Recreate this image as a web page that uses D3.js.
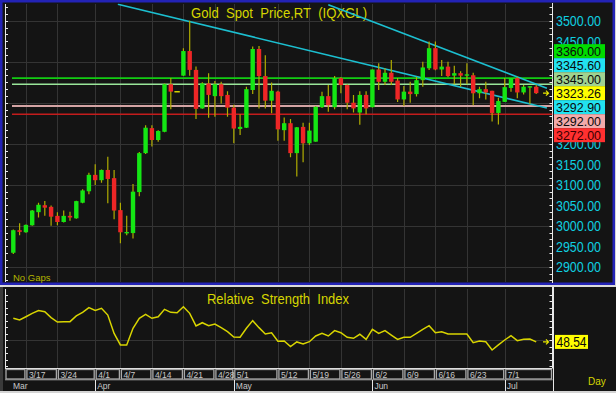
<!DOCTYPE html>
<html><head><meta charset="utf-8">
<script src="https://cdn.jsdelivr.net/npm/d3@7"></script>
<style>html,body{margin:0;padding:0;background:#d4d4d4;overflow:hidden}svg{display:block}</style>
</head><body>
<svg id="c" width="616" height="393"></svg>
<script>
// ---------------- data ----------------
const dates = ["3/13","3/14","3/17","3/18","3/19","3/20","3/21","3/24","3/25","3/26","3/27","3/28","3/31","4/1","4/2","4/3","4/4","4/7","4/8","4/9","4/10","4/11","4/14","4/15","4/16","4/17","4/18","4/21","4/22","4/23","4/24","4/25","4/28","4/29","4/30","5/1","5/2","5/5","5/6","5/7","5/8","5/9","5/12","5/13","5/14","5/15","5/16","5/19","5/20","5/21","5/22","5/23","5/26","5/27","5/28","5/29","5/30","6/2","6/3","6/4","6/5","6/6","6/9","6/10","6/11","6/12","6/13","6/16","6/17","6/18","6/19","6/20","6/23","6/24","6/25","6/26","6/27","6/30","7/1","7/2","7/3","7/4","7/7","7/8"];
const open = [2934,2989,2984,3001,3033,3050,3046,3024,3009,3024,
  3018,3056,3084,3124,3111,3136,3116,3038,2982,2982,
  3082,3177,3238,3209,3229,3345,3327,3366,3426,3380,
  3286,3347,3316,3345,3319,3288,3236,3239,3331,3431,
  3365,3305,3327,3233,3250,3177,3241,3201,3205,3289,
  3316,3289,3360,3343,3300,3276,3319,3289,3381,3351,
  3373,3354,3308,3327,3321,3355,3384,3433,3381,3388,
  3366,3372,3366,3367,3323,3333,3329,3275,3302,3336,
  3360,3325,3338,3339];
const high = [2991,3006,3003,3038,3056,3060,3049,3033,3037,3034,
  3061,3089,3129,3150,3137,3168,3136,3056,3024,3102,
  3180,3245,3245,3233,3347,3360,3327,3433,3500,3388,
  3350,3372,3353,3351,3328,3295,3272,3339,3437,3438,
  3416,3349,3329,3264,3260,3241,3251,3251,3292,3327,
  3343,3365,3362,3345,3319,3328,3328,3381,3396,3384,
  3404,3360,3341,3351,3363,3400,3449,3449,3404,3400,
  3390,3377,3396,3373,3339,3351,3329,3312,3360,3360,
  3363,3343,3341,3343];
const low = [2931,2977,2983,3000,3020,3024,3000,3001,3008,3012,
  3017,3055,3077,3099,3105,3055,3016,2957,2977,2969,
  3072,3175,3193,3205,3228,3284,3327,3365,3366,3260,
  3285,3263,3266,3298,3266,3201,3221,3238,3321,3286,
  3286,3274,3207,3207,3167,3120,3155,3197,3205,3287,
  3278,3284,3323,3284,3276,3246,3272,3288,3331,3343,
  3343,3302,3292,3300,3315,3339,3380,3379,3365,3362,
  3345,3339,3345,3294,3311,3308,3254,3247,3302,3327,
  3311,3320,3297,3321];
const close = [2989,2985,3002,3037,3051,3044,3022,3009,3024,3020,
  3060,3086,3124,3111,3136,3114,3037,2984,2984,3083,
  3177,3239,3209,3231,3345,3327,3327,3426,3380,3285,
  3347,3319,3345,3316,3288,3237,3241,3333,3431,3365,
  3305,3329,3235,3250,3177,3240,3201,3232,3290,3316,
  3294,3360,3343,3300,3286,3319,3286,3381,3351,3373,
  3351,3308,3327,3321,3355,3386,3433,3381,3388,3365,
  3372,3366,3369,3323,3333,3325,3275,3304,3338,3360,
  3325,3339,3339,3323.26];
const rsi = [66.7,65.4,67.9,70.5,72.6,71.8,67.2,63.8,64.1,64.1,
  68.5,71.3,74.9,72.8,74.4,69.2,55.1,46.2,46.2,59.0,
  66.7,69.7,66.7,67.9,73.6,71.3,71.0,75.6,70.5,60.8,
  63.3,61.0,62.3,59.5,56.4,52.3,52.1,59.0,64.9,59.5,
  54.6,55.6,49.0,49.2,44.9,48.5,46.9,48.7,53.1,55.1,
  53.1,57.2,55.6,52.1,51.3,54.4,50.5,58.2,55.1,57.2,
  53.8,50.5,52.1,52.1,55.1,58.2,61.0,55.6,56.4,54.6,
  54.6,54.6,54.6,47.9,49.2,48.7,42.3,46.2,50.0,53.3,
  49.5,50.5,50.8,48.54];
const weekLabels = ["3/17","3/24","4/1","4/7","4/14","4/21","4/28","5/1","5/12","5/19","5/26","6/2","6/9","6/16","6/23","7/1"];
const monthNames = ["Mar","Apr","May","Jun","Jul"];
const monthStarts = ["3/13","4/1","5/1","6/2","7/1"];
const priceTicks = [2900,2950,3000,3050,3100,3150,3200,3250,3300,3350,3400,3450,3500];
const levelValues = [3360, 3345, 3292, 3272];
const levelColors = ["#12cc12","#9ae69a","#d4a4a4","#c41c1c"];
const boxLabels = ["3360.00","3345.60","3345.00","3323.26","3292.90","3292.00","3272.00"];
const boxColors = ["#00dc00","#22e2f0","#a0d290","#ffff00","#22e2f0","#f2aaaa","#ff3030"];
const upperTrend = [[50, 3539],[84.7, 3335]];
const lowerTrend = [[16.6, 3540],[84.7, 3287]];
const rsiLast = "48.54";

// ---------------- drawing ----------------
const svg = d3.select("#c");
const FONT = "'Liberation Sans', Arial, sans-serif";
const W = 616, H = 393;
const AX = 552.5;
const x = d3.scaleLinear().domain([0, dates.length - 1]).range([13.3, 536.2]);
const y = d3.scaleLinear().domain([2900, 3500]).range([266.7, 20.7]);
const yr = d3.scaleLinear().domain([30, 90]).range([366, 288]);
const idx = d => dates.indexOf(d);

svg.append("rect").attr("width", W).attr("height", H).attr("fill", "#d4d4d4");

// ---- top panel ----
svg.append("rect").attr("x", 1.25).attr("y", 1.25).attr("width", 612.5).attr("height", 282.5)
  .attr("fill", "#141414").attr("stroke", "#2323b6").attr("stroke-width", 2.5);

const defs = svg.append("defs");
defs.append("clipPath").attr("id", "pclip").append("rect")
  .attr("x", 5).attr("y", 3.5).attr("width", AX - 5).attr("height", 279);
defs.append("clipPath").attr("id", "rclip").append("rect")
  .attr("x", 5).attr("y", 288).attr("width", AX - 5).attr("height", 80);

const gGrid = svg.append("g");
gGrid.selectAll("line.h").data(priceTicks.filter(v => v % 100 === 0)).join("line")
  .attr("x1", 6).attr("x2", AX).attr("y1", d => Math.round(y(d)) + 0.5).attr("y2", d => Math.round(y(d)) + 0.5)
  .attr("stroke", "#343434").attr("stroke-width", 1);
const weekX = weekLabels.map(d => x(idx(d)));
gGrid.selectAll("line.v").data(weekX).join("line")
  .attr("x1", d => Math.round(d) + 0.5).attr("x2", d => Math.round(d) + 0.5)
  .attr("y1", 4).attr("y2", 282).attr("stroke", "#343434");

svg.append("line").attr("x1", 5.5).attr("x2", 5.5).attr("y1", 4).attr("y2", 282).attr("stroke", "#e8e8e8");
svg.append("line").attr("x1", AX).attr("x2", AX).attr("y1", 3).attr("y2", 283).attr("stroke", "#e8e8e8");
const minorTicks = d3.range(2900 - 50 * 3, 3560, 50 / 3).filter(v => y(v) > 4 && y(v) < 282);
svg.append("g").selectAll("line").data(minorTicks).join("line")
  .attr("x1", 5.5).attr("x2", 8).attr("y1", d => Math.round(y(d)) + 0.5).attr("y2", d => Math.round(y(d)) + 0.5)
  .attr("stroke", "#e8e8e8");
svg.append("g").selectAll("line").data(minorTicks).join("line")
  .attr("x1", AX - 3).attr("x2", AX).attr("y1", d => Math.round(y(d)) + 0.5).attr("y2", d => Math.round(y(d)) + 0.5)
  .attr("stroke", "#e8e8e8");

svg.append("text").attr("x", 191).attr("y", 17.5).attr("font-family", FONT).attr("font-size", 15)
  .attr("fill", "#d6d600").attr("textLength", 176).attr("lengthAdjust", "spacingAndGlyphs")
  .style("white-space", "pre").text("Gold  Spot  Price,RT  (IQXGL)");

const plot = svg.append("g").attr("clip-path", "url(#pclip)");

plot.selectAll("line.lv").data(levelValues).join("line")
  .attr("x1", 12).attr("x2", AX).attr("y1", d => y(d)).attr("y2", d => y(d))
  .attr("stroke", (d, i) => levelColors[i]).attr("stroke-width", (d, i) => i === 2 ? 2.2 : 1.6);

const tl = d3.line().x(d => x(d[0])).y(d => y(d[1]));
[upperTrend, lowerTrend].forEach(t => {
  plot.append("path").attr("d", tl(t)).attr("fill", "none").attr("stroke", "#1cbfd0").attr("stroke-width", 1.6);
});

const BW = 4.4;
const cg = plot.append("g");
dates.forEach((d, i) => {
  const cx = x(i);
  if (high[i] === low[i]) {
    cg.append("line").attr("x1", cx - BW / 2 - 0.5).attr("x2", cx + BW / 2 + 0.5)
      .attr("y1", y(close[i])).attr("y2", y(close[i])).attr("stroke", "#d4d400").attr("stroke-width", 1.5);
    return;
  }
  cg.append("line").attr("x1", cx).attr("x2", cx).attr("y1", y(high[i])).attr("y2", y(low[i]))
    .attr("stroke", "#b0ac00").attr("stroke-width", 1.2);
  const up = close[i] >= open[i];
  const top = y(Math.max(open[i], close[i])), bot = y(Math.min(open[i], close[i]));
  const hgt = Math.max(1.4, bot - top);
  cg.append("rect").attr("x", cx - BW / 2).attr("width", BW)
    .attr("y", hgt === 1.4 ? (top + bot) / 2 - 0.7 : top).attr("height", hgt)
    .attr("fill", up ? "#14e614" : "#ee2626");
});

// value box stack around current price
const anchorK = boxLabels.indexOf(close[close.length - 1].toFixed(2));
const anchorY = y(close[close.length - 1]);
const stackTop = anchorY - anchorK * 14 - 7;
const stackBot = anchorY + (boxLabels.length - 1 - anchorK) * 14 + 7;

const visibleTicks = priceTicks.filter(v => !(y(v) - 5.5 >= stackTop && y(v) + 5.5 <= stackBot));
const labG = svg.append("g").attr("font-family", FONT).attr("font-size", 15);
labG.selectAll("text").data(visibleTicks).join("text")
  .attr("x", 556).attr("y", d => y(d) + 5.4).attr("fill", "#10cfe0")
  .attr("textLength", 45).attr("lengthAdjust", "spacingAndGlyphs")
  .text(d => d3.format(".2f")(d));

boxLabels.forEach((t, k) => {
  const cy = anchorY + (k - anchorK) * 14;
  svg.append("rect").attr("x", 554).attr("y", cy - 7).attr("width", 51).attr("height", 14).attr("fill", boxColors[k]);
  svg.append("text").attr("x", 556).attr("y", cy + 4.6).attr("font-family", FONT).attr("font-size", 12.5)
    .attr("fill", k === 6 ? "#3a0000" : "#0a0a0a").attr("textLength", 45).attr("lengthAdjust", "spacingAndGlyphs").text(t);
});

function arrow(ax, ay) {
  svg.append("path").attr("d", `M${ax - 3},${ay} L${ax + 2.5},${ay} M${ax},${ay - 2.5} L${ax + 2.5},${ay} L${ax},${ay + 2.5}`)
    .attr("stroke", "#e6e600").attr("stroke-width", 1.2).attr("fill", "none");
}
arrow(546, anchorY);

svg.append("text").attr("x", 13).attr("y", 280.5).attr("font-family", FONT).attr("font-size", 9.5)
  .attr("fill", "#b4b400").text("No Gaps");

// ---- lower area (RSI + dates) ----
svg.append("rect").attr("x", 0).attr("y", 287).attr("width", W).attr("height", 104).attr("fill", "#141414");
svg.append("line").attr("x1", 0).attr("x2", W).attr("y1", 286).attr("y2", 286).attr("stroke", "#dcdcdc").attr("stroke-width", 1.5);
svg.append("rect").attr("x", 0).attr("y", 287).attr("width", 3).attr("height", 104).attr("fill", "#3a3a3a");

svg.append("g").selectAll("line").data(weekX).join("line")
  .attr("x1", d => Math.round(d) + 0.5).attr("x2", d => Math.round(d) + 0.5)
  .attr("y1", 289).attr("y2", 368).attr("stroke", "#343434");
svg.append("line").attr("x1", 6).attr("x2", AX).attr("y1", Math.round(yr(50)) + 0.5).attr("y2", Math.round(yr(50)) + 0.5)
  .attr("stroke", "#343434");

svg.append("line").attr("x1", 5.5).attr("x2", 5.5).attr("y1", 289).attr("y2", 368).attr("stroke", "#e8e8e8");
svg.append("line").attr("x1", AX).attr("x2", AX).attr("y1", 287).attr("y2", 368).attr("stroke", "#e8e8e8");
svg.append("line").attr("x1", AX + 1).attr("x2", AX + 1).attr("y1", 287).attr("y2", 393).attr("stroke", "#e8e8e8");
const rTicks = d3.range(30, 91, 5).filter(v => yr(v) > 289 && yr(v) < 367);
svg.append("g").selectAll("line").data(rTicks).join("line")
  .attr("x1", 5.5).attr("x2", 8).attr("y1", d => Math.round(yr(d)) + 0.5).attr("y2", d => Math.round(yr(d)) + 0.5).attr("stroke", "#e8e8e8");
svg.append("g").selectAll("line").data(rTicks).join("line")
  .attr("x1", AX - 3).attr("x2", AX).attr("y1", d => Math.round(yr(d)) + 0.5).attr("y2", d => Math.round(yr(d)) + 0.5).attr("stroke", "#e8e8e8");

svg.append("text").attr("x", 207).attr("y", 304).attr("font-family", FONT).attr("font-size", 15)
  .attr("fill", "#d6d600").attr("textLength", 142).attr("lengthAdjust", "spacingAndGlyphs")
  .style("white-space", "pre").text("Relative  Strength  Index");

svg.append("path").attr("clip-path", "url(#rclip)")
  .attr("d", d3.line().x((d, i) => x(i)).y(d => yr(d))(rsi))
  .attr("fill", "none").attr("stroke", "#d8d400").attr("stroke-width", 1.5);

const rY = yr(rsi[rsi.length - 1]);
svg.append("rect").attr("x", 555).attr("y", rY - 7).attr("width", 33).attr("height", 14).attr("fill", "#ffff00");
svg.append("text").attr("x", 556.5).attr("y", rY + 5.4).attr("font-family", FONT).attr("font-size", 15)
  .attr("fill", "#0a0a0a").attr("textLength", 30).attr("lengthAdjust", "spacingAndGlyphs").text(rsiLast);
arrow(546, rY);

// ---- date axis ----
svg.append("line").attr("x1", 5).attr("x2", AX).attr("y1", 368.5).attr("y2", 368.5).attr("stroke", "#e8e8e8");
const bounds = [5].concat(weekX).concat([AX]);
const boxes = d3.range(bounds.length - 1).map(k => ({x0: bounds[k], x1: bounds[k + 1], t: k === 0 ? "" : weekLabels[k - 1]}));
const dg = svg.append("g");
dg.selectAll("rect").data(boxes).join("rect")
  .attr("x", d => d.x0 + 1).attr("y", 369.5).attr("width", d => d.x1 - d.x0 - 2).attr("height", 9.5)
  .attr("fill", "none").attr("stroke", "#a8a8a8").attr("stroke-width", 1.3);
dg.selectAll("text").data(boxes).join("text")
  .attr("x", d => d.x0 + 3).attr("y", 377.6).attr("font-family", FONT).attr("font-size", 8.5)
  .attr("fill", "#c8c8c8").text(d => d.t);
svg.append("line").attr("x1", 5).attr("x2", AX).attr("y1", 379.8).attr("y2", 379.8).attr("stroke", "#9a9a9a");
const monthX = monthStarts.map(d => x(idx(d)));
monthX.slice(1).forEach(mx => {
  svg.append("line").attr("x1", Math.round(mx) + 0.5).attr("x2", Math.round(mx) + 0.5).attr("y1", 380).attr("y2", 391)
    .attr("stroke", "#e8e8e8");
});
svg.append("g").selectAll("text").data(monthNames).join("text")
  .attr("x", (d, i) => i === 0 ? 13 : monthX[i] + 2).attr("y", 388.5)
  .attr("font-family", FONT).attr("font-size", 8.5).attr("fill", "#c8c8c8").text(d => d);
svg.append("text").attr("x", 588).attr("y", 384.5).attr("font-family", FONT).attr("font-size", 10)
  .attr("fill", "#d6d600").text("Day");
svg.append("rect").attr("x", 0).attr("y", 391).attr("width", W).attr("height", 2).attr("fill", "#d4d4d4");
</script>
</body></html>
